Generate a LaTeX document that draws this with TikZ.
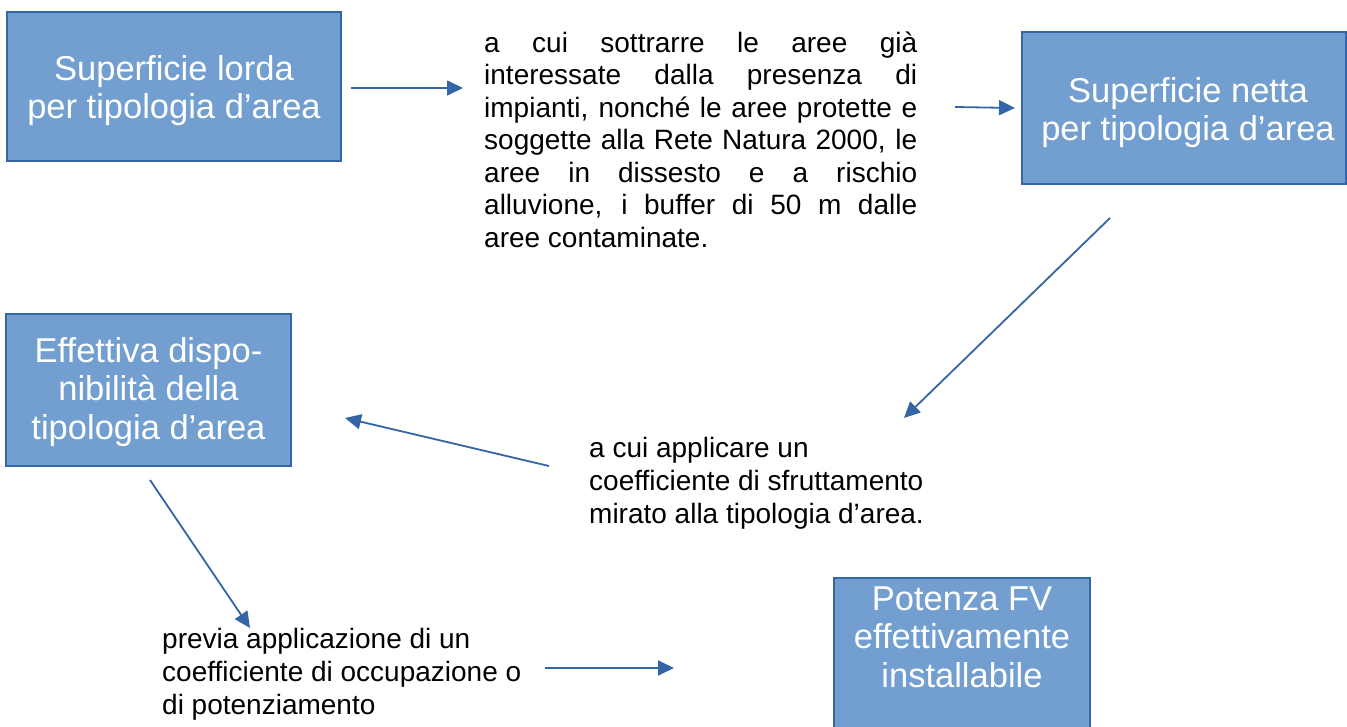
\documentclass[tikz,border=0pt]{standalone}
\usepackage{fontspec}
\setmainfont{Liberation Sans}
\usetikzlibrary{arrows.meta}
\definecolor{boxfill}{HTML}{729FCF}
\definecolor{boxline}{HTML}{3465A4}
\begin{document}
\begin{tikzpicture}[x=1pt,y=-1pt,
  box/.style={draw=boxline, line width=1.5pt, fill=boxfill, text=white, inner sep=0pt,
    font=\fontsize{34.5}{38.5}\selectfont},
  note/.style={inner sep=0pt, anchor=base west, text=black,
    font=\fontsize{28}{32.5}\selectfont},
  arr/.style={draw=boxline, line width=1.8pt, -{Triangle[length=16pt,width=15pt]}}]
\useasboundingbox (0,0) rectangle (1347,726);
\begin{scope}
\clip (0,0) rectangle (1347,726);
% boxes
\node[box] (b1) at (174,86.5) {\parbox[t][149pt][t]{334pt}{\centering\rule{0pt}{68pt}Superficie lorda\\per tipologia d’area}};
\node[box] (b2) at (1184,108) {\hspace*{8pt}\parbox[t][152pt][t]{316pt}{\centering\rule{0pt}{70pt}Superficie netta\\per tipologia d’area}};
\node[box] (b3) at (148.5,390) {\parbox[t][152pt][t]{285pt}{\centering\rule{0pt}{48pt}Effettiva dispo-\\nibilità della\\tipologia d’area}};
\node[box] (b4) at (962,669) {\parbox[t][182pt][t]{256pt}{\centering\rule{0pt}{32pt}Potenza FV\\effettivamente\\installabile}};
\end{scope}
% notes
\node[note] (t1) at (484,52) {\parbox[t]{433pt}{%
\makebox[433pt][s]{a cui sottrarre le aree già}\\
\makebox[433pt][s]{interessate dalla presenza di}\\
\makebox[433pt][s]{impianti, nonché le aree protette e}\\
\makebox[433pt][s]{soggette alla Rete Natura 2000, le}\\
\makebox[433pt][s]{aree in dissesto e a rischio}\\
\makebox[433pt][s]{alluvione, i buffer di 50 m dalle}\\
aree contaminate.}};
\node[note, font=\fontsize{28}{33}\selectfont] (t2) at (589,457) {\parbox[t]{380pt}{\raggedright a cui applicare un\\coefficiente di sfruttamento\\mirato alla tipologia d’area.}};
\node[note, font=\fontsize{28}{33}\selectfont] (t3) at (162,648) {\parbox[t]{380pt}{\raggedright previa applicazione di un\\coefficiente di occupazione o\\di potenziamento}};
% connector end points
\coordinate (a1s) at (351,88);  \coordinate (a1e) at (463,88);
\coordinate (a2s) at (955,107); \coordinate (a2e) at (1015,108);
\coordinate (a3s) at (1110,218); \coordinate (a3e) at (904,418);
\coordinate (a4s) at (549,466); \coordinate (a4e) at (345,418);
\coordinate (a5s) at (150,480); \coordinate (a5e) at (250,628);
\coordinate (a6s) at (545,668); \coordinate (a6e) at (674,668);
\draw[arr] (a1s) -- (a1e);
\draw[arr] (a2s) -- (a2e);
\draw[arr] (a3s) -- (a3e);
\draw[arr] (a4s) -- (a4e);
\draw[arr] (a5s) -- (a5e);
\draw[arr] (a6s) -- (a6e);
\end{tikzpicture}
\end{document}
